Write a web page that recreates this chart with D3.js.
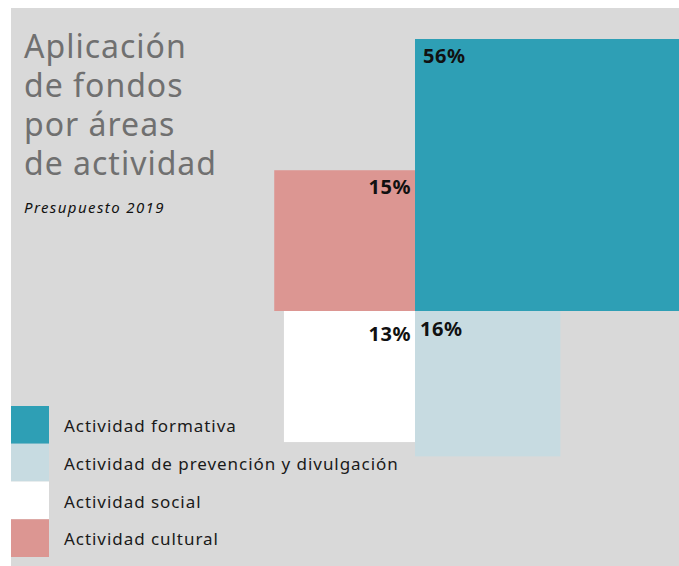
<!DOCTYPE html>
<html>
<head>
<meta charset="utf-8">
<script src="https://cdn.jsdelivr.net/npm/d3@7"></script>
<style>
  body { margin: 0; background: #fff; }
  svg { display: block; font-family: "Noto Sans", sans-serif; }
</style>
</head>
<body>
<div id="chart"></div>
<script>
// data
const categories = ["Actividad formativa", "Actividad de prevención y divulgación", "Actividad social", "Actividad cultural"];
const values = [56, 16, 13, 15];
const colors = ["#2e9fb5", "#c7dbe1", "#ffffff", "#dc9692"];
// which quadrant each square sits in, around a shared corner
const quadrant = ["tr", "br", "bl", "tl"];

const width = 679, height = 566;
const cx = 415, cy = 311;

const svg = d3.select("#chart").append("svg")
    .attr("width", width)
    .attr("height", height);

svg.append("rect")
    .attr("x", 11).attr("y", 8)
    .attr("width", width - 11).attr("height", height - 8)
    .attr("fill", "#d9d9d9");

// side of square ~ sqrt(value), so area ~ value
const side = d3.scaleSqrt()
    .domain([0, 56])
    .range([0, 272]);

const data = categories.map((c, i) => ({name: c, value: values[i], color: colors[i], q: quadrant[i]}));

const sq = svg.append("g");

sq.selectAll("rect")
  .data(data)
  .join("rect")
    .attr("x", d => d.q[1] === "r" ? cx : cx - side(d.value))
    .attr("y", d => d.q[0] === "b" ? cy : cy - side(d.value))
    .attr("width", d => side(d.value))
    .attr("height", d => side(d.value))
    .attr("fill", d => d.color);

sq.selectAll("text")
  .data(data)
  .join("text")
    .attr("x", d => d.q[1] === "r" ? cx + (d.q === "tr" ? 8 : 5) : cx - 4)
    .attr("y", d => d.q[0] === "b" ? cy + (d.q === "bl" ? 30 : 25) : cy - side(d.value) + 24)
    .attr("text-anchor", d => d.q[1] === "r" ? "start" : "end")
    .attr("font-size", 20)
    .attr("font-weight", 700)
    .attr("letter-spacing", 0.5)
    .attr("fill", "#111")
    .text(d => d.value + "%");

// title
const title = ["Aplicación", "de fondos", "por áreas", "de actividad"];
svg.append("g")
  .selectAll("text")
  .data(title)
  .join("text")
    .attr("x", 24)
    .attr("y", (d, i) => 58 + i * 39)
    .attr("font-size", 32)
    .attr("letter-spacing", 1)
    .attr("fill", "#707070")
    .text(d => d);

svg.append("text")
    .attr("x", 24).attr("y", 213)
    .attr("font-size", 15)
    .attr("letter-spacing", 1.4)
    .attr("font-style", "italic")
    .attr("fill", "#111")
    .text("Presupuesto 2019");

// legend
const legend = svg.append("g");
const ly = d3.scaleBand()
    .domain(categories)
    .range([406, 557]);

legend.selectAll("rect")
  .data(data)
  .join("rect")
    .attr("x", 11)
    .attr("y", d => ly(d.name))
    .attr("width", 38)
    .attr("height", ly.bandwidth())
    .attr("fill", d => d.color);

legend.selectAll("text")
  .data(data)
  .join("text")
    .attr("x", 64)
    .attr("y", d => ly(d.name) + 26)
    .attr("font-size", 17)
    .attr("letter-spacing", 0.95)
    .attr("fill", "#1a1a1a")
    .text(d => d.name);
</script>
</body>
</html>
